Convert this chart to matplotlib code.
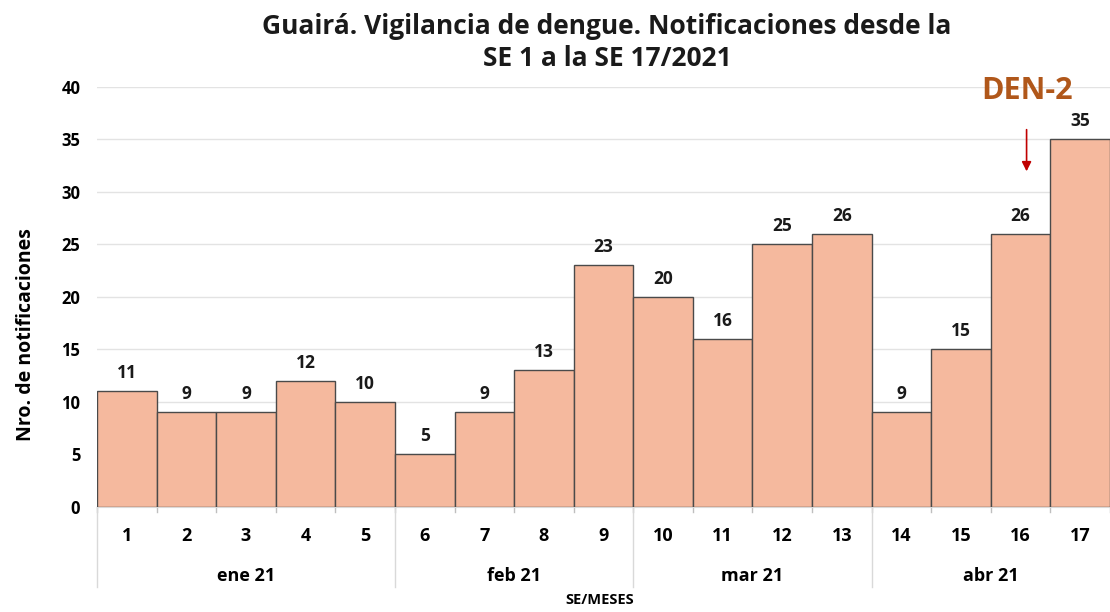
import numpy as np
import matplotlib.pyplot as plt
from matplotlib.transforms import blended_transform_factory

weeks = [str(i) for i in range(1, 18)]
values = [11, 9, 9, 12, 10, 5, 9, 13, 23, 20, 16, 25, 26, 9, 15, 26, 35]
months = ["ene 21", "feb 21", "mar 21", "abr 21"]
month_sizes = [5, 4, 4, 4]

plt.rcParams['font.family'] = ['Open Sans', 'DejaVu Sans']

fig = plt.figure(figsize=(11.1, 6.12), dpi=100)
ax = fig.add_axes([0.0874, 0.1716, 0.9126, 0.6863])

x = np.arange(len(values))
bars = ax.bar(x, values, width=1.0, color="#F5B99E", edgecolor="#4a4a4a", linewidth=1.0, zorder=3)
for xi, v in zip(x, values):
    ax.text(xi, v + 0.9, str(v), ha="center", va="bottom", fontsize=12.5, fontweight="bold", color="#1a1a1a")

ax.set_xlim(-0.5, len(values) - 0.5)
ax.set_ylim(0, 40)
ax.set_yticks(np.arange(0, 41, 5))
ax.tick_params(axis="y", length=0, labelsize=12, pad=12)
for lab in ax.get_yticklabels():
    lab.set_fontweight("bold")
ax.grid(axis="y", color="#e3e3e3", linewidth=1.0, zorder=0)
ax.set_xticks([])
for s in ["top", "right", "left"]:
    ax.spines[s].set_visible(False)
ax.spines["bottom"].set_color("#d9d9d9")

trans = blended_transform_factory(ax.transData, ax.transAxes)
# small ticks at each bar boundary
for b in np.arange(-0.5, len(values), 1.0):
    ax.plot([b, b], [0, -0.012], transform=trans, color="#bfbfbf", lw=1, clip_on=False)
# week labels
for xi, w in zip(x, weeks):
    ax.text(xi, -0.068, w, transform=trans, ha="center", va="center", fontsize=13, fontweight="bold")
# month groups
start = 0
bounds = [-0.5]
for m, n in zip(months, month_sizes):
    center = start + (n - 1) / 2
    ax.text(center, -0.165, m, transform=trans, ha="center", va="center", fontsize=13, fontweight="bold")
    start += n
    bounds.append(start - 0.5)
for b in bounds[:-1]:
    ax.plot([b, b], [0, -0.19], transform=trans, color="#d9d9d9", lw=1, clip_on=False)

fig.text(0.54, 0.02, "SE/MESES", ha="center", va="center", fontsize=10.5, fontweight="bold")
fig.text(0.023, 0.454, "Nro. de notificaciones", rotation=90, ha="center", va="center",
         fontsize=14, fontweight="bold")

fig.text(0.547, 0.957, "Guairá. Vigilancia de dengue. Notificaciones desde la",
         ha="center", va="center", fontsize=19, fontweight="bold", color="#1a1a1a")
fig.text(0.547, 0.904, "SE 1 a la SE 17/2021",
         ha="center", va="center", fontsize=19, fontweight="bold", color="#1a1a1a")

# DEN-2 annotation
ax.annotate("", xy=(15.1, 31.7), xytext=(15.1, 36.2),
            arrowprops=dict(arrowstyle="-|>", color="#c00000", lw=1.2, mutation_scale=14), zorder=5)
ax.text(15.1, 39.6, "DEN-2", ha="center", va="center", fontsize=22, fontweight="bold",
        color="#B0571A", clip_on=False)

fig.savefig("out.png", dpi=100)
